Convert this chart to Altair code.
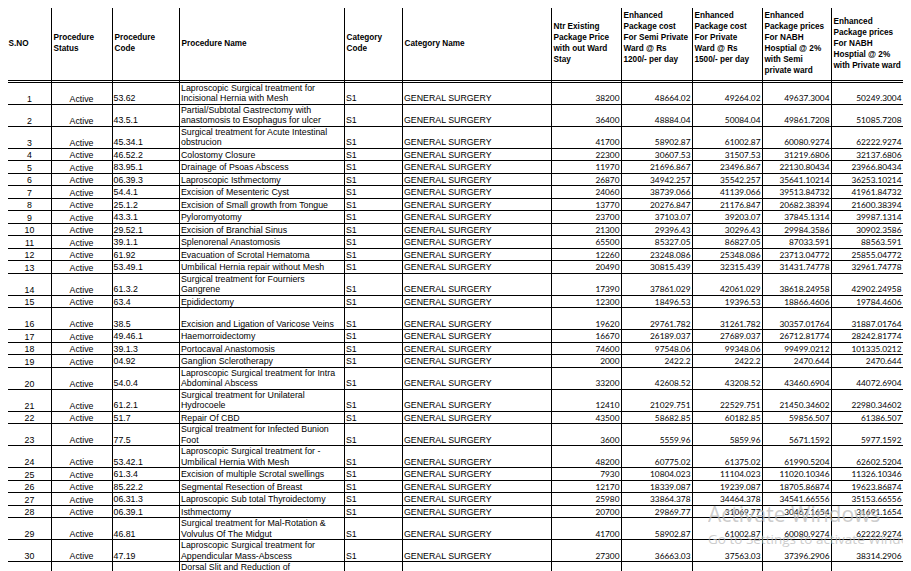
import altair as alt
import pandas as pd

# ---------------- data ----------------
sno = [str(n) for n in range(1, 31)] + [""]
status = ["Active"] * 30 + [""]
proc_code = ["53.62", "43.5.1", "45.34.1", "46.52.2", "83.95.1", "06.39.3", "54.4.1", "25.1.2",
             "43.3.1", "29.52.1", "39.1.1", "61.92", "53.49.1", "61.3.2", "63.4", "38.5",
             "49.46.1", "39.1.3", "04.92", "54.0.4", "61.2.1", "51.7", "77.5", "53.42.1",
             "61.3.4", "85.22.2", "06.31.3", "06.39.1", "46.81", "47.19", ""]
proc_name = [
    ["Laproscopic Surgical treatment for", "Incisional Hernia with Mesh"],
    ["Partial/Subtotal Gastrectomy with", "anastomosis to Esophagus for ulcer"],
    ["Surgical treatment for Acute Intestinal", "obstrucion"],
    ["Colostomy Closure"],
    ["Drainage of Psoas Abscess"],
    ["Laproscopic Isthmectomy"],
    ["Excision of Mesenteric Cyst"],
    ["Excision of Small growth from Tongue"],
    ["Pyloromyotomy"],
    ["Excision of Branchial Sinus"],
    ["Splenorenal Anastomosis"],
    ["Evacuation of Scrotal Hematoma"],
    ["Umbilical Hernia repair without Mesh"],
    ["Surgical treatment for Fourniers", "Gangrene"],
    ["Epididectomy"],
    ["", "Excision and Ligation of Varicose Veins"],
    ["Haemorroidectomy"],
    ["Portocaval Anastomosis"],
    ["Ganglion Sclerotherapy"],
    ["Laproscopic Surgical treatment for Intra", "Abdominal Abscess"],
    ["Surgical treatment for Unilateral", "Hydrocoele"],
    ["Repair Of CBD"],
    ["Surgical treatment for Infected Bunion", "Foot"],
    ["Laproscopic Surgical treatment for  -", "Umbilical Hernia With Mesh"],
    ["Excision of multiple Scrotal swellings"],
    ["Segmental Resection of Breast"],
    ["Laproscopic Sub total Thyroidectomy"],
    ["Isthmectomy"],
    ["Surgical treatment for Mal-Rotation &", "Volvulus Of The Midgut"],
    ["Laproscopic Surgical treatment for", "Appendicular Mass-Abscess"],
    ["Dorsal Slit and Reduction of", ""],
]
cat_code = ["S1"] * 30 + [""]
cat_name = ["GENERAL SURGERY"] * 30 + [""]
existing = ["38200", "36400", "41700", "22300", "11970", "26870", "24060", "13770", "23700", "21300",
            "65500", "12260", "20490", "17390", "12300", "19620", "16670", "74600", "2000", "33200",
            "12410", "43500", "3600", "48200", "7930", "12170", "25980", "20700", "41700", "27300", ""]
semi_private = ["48664.02", "48884.04", "58902.87", "30607.53", "21696.867", "34942.257", "38739.066",
                "20276.847", "37103.07", "29396.43", "85327.05", "23248.086", "30815.439", "37861.029",
                "18496.53", "29761.782", "26189.037", "97548.06", "2422.2", "42608.52", "21029.751",
                "58682.85", "5559.96", "60775.02", "10804.023", "18339.087", "33864.378", "29869.77",
                "58902.87", "36663.03", ""]
private = ["49264.02", "50084.04", "61002.87", "31507.53", "23496.867", "35542.257", "41139.066",
           "21176.847", "39203.07", "30296.43", "86827.05", "25348.086", "32315.439", "42061.029",
           "19396.53", "31261.782", "27689.037", "99348.06", "2422.2", "43208.52", "22529.751",
           "60182.85", "5859.96", "61375.02", "11104.023", "19239.087", "34464.378", "31069.77",
           "61002.87", "37563.03", ""]
nabh_semi = ["49637.3004", "49861.7208", "60080.9274", "31219.6806", "22130.80434", "35641.10214",
             "39513.84732", "20682.38394", "37845.1314", "29984.3586", "87033.591", "23713.04772",
             "31431.74778", "38618.24958", "18866.4606", "30357.01764", "26712.81774", "99499.0212",
             "2470.644", "43460.6904", "21450.34602", "59856.507", "5671.1592", "61990.5204",
             "11020.10346", "18705.86874", "34541.66556", "30467.1654", "60080.9274", "37396.2906", ""]
nabh_private = ["50249.3004", "51085.7208", "62222.9274", "32137.6806", "23966.80434", "36253.10214",
                "41961.84732", "21600.38394", "39987.1314", "30902.3586", "88563.591", "25855.04772",
                "32961.74778", "42902.24958", "19784.4606", "31887.01764", "28242.81774", "101335.0212",
                "2470.644", "44072.6904", "22980.34602", "61386.507", "5977.1592", "62602.5204",
                "11326.10346", "19623.86874", "35153.66556", "31691.1654", "62222.9274", "38314.2906", ""]
headers = [
    ["S.NO"],
    ["Procedure", "Status"],
    ["Procedure", "Code"],
    ["Procedure Name"],
    ["Category", "Code"],
    ["Category Name"],
    ["Ntr Existing", "Package Price", "with out Ward", "Stay"],
    ["Enhanced", "Package cost", "For Semi Private", "Ward @ Rs", "1200/- per day", ""],
    ["Enhanced", "Package cost", "For Private", "Ward @ Rs", "1500/- per day", ""],
    ["Enhanced", "Package prices", "For NABH", "Hosptial @ 2%", "with Semi", "private ward"],
    ["Enhanced", "Package prices", "For NABH", "Hosptial @ 2%", "with Private ward"],
]
watermark = ["Activate Windows", "Go to Settings to activate Windows."]

# ---------------- layout ----------------
EDGES = [6, 51, 112, 179, 344, 402, 551, 621, 692, 762, 831, 903]
TABLE_TOP, HEADER_BOTTOM, BODY_TOP = 7, 80, 82.3
SINGLE, TALL, LINE_H = 12.5, 22.0, 10.5
HEAD_MID, HEAD_LH = 43.5, 11.0


def crisp(v):
    return int(v) + 0.5


hlines = [crisp(TABLE_TOP), crisp(HEADER_BOTTOM), crisp(BODY_TOP)]
left_txt, center_txt, right_txt = [], [], []
top = BODY_TOP
for i in range(len(sno)):
    lines = proc_name[i]
    bottom = top + (TALL if len(lines) > 1 else SINGLE)
    hlines.append(crisp(bottom))
    base = bottom - 3.3
    center_txt.append({"x": (EDGES[0] + EDGES[1]) / 2 + 1, "y": base + 0.6, "t": sno[i]})
    center_txt.append({"x": (EDGES[1] + EDGES[2]) / 2, "y": base + 0.6, "t": status[i]})
    left_txt.append({"x": EDGES[2] + 1.5, "y": base, "t": proc_code[i]})
    for j, ln in enumerate(lines):
        left_txt.append({"x": EDGES[3] + 2, "y": base - LINE_H * (len(lines) - 1 - j), "t": ln})
    left_txt.append({"x": EDGES[4] + 2, "y": base, "t": cat_code[i]})
    left_txt.append({"x": EDGES[5] + 2, "y": base, "t": cat_name[i]})
    for k, col in enumerate([existing, semi_private, private, nabh_semi, nabh_private]):
        right_txt.append({"x": EDGES[7 + k] - 1.5, "y": base, "t": col[i]})
    top = bottom

head_txt = []
for c, hl in enumerate(headers):
    n = len(hl)
    for j, ln in enumerate(hl):
        head_txt.append({"x": EDGES[c] + 2.5, "y": HEAD_MID + (j - (n - 1) / 2) * HEAD_LH, "t": ln})

xs = alt.Scale(domain=[8, 903], nice=False, zero=False)
ys = alt.Scale(domain=[8, 571], reverse=True, nice=False, zero=False)

hdf = pd.DataFrame({"y": hlines, "x1": EDGES[0], "x2": EDGES[-1]})
vdf = pd.DataFrame({"x": [crisp(e) for e in EDGES], "y1": TABLE_TOP, "y2": 600})

h_rules = alt.Chart(hdf).mark_rule(color="black", strokeWidth=1).encode(
    x=alt.X("x1:Q", scale=xs, axis=None), x2="x2:Q", y=alt.Y("y:Q", scale=ys, axis=None))
v_rules = alt.Chart(vdf).mark_rule(color="black", strokeWidth=1).encode(
    x=alt.X("x:Q", scale=xs, axis=None), y=alt.Y("y1:Q", scale=ys, axis=None), y2="y2:Q")


def text_layer(rows, **kw):
    return alt.Chart(pd.DataFrame(rows)).mark_text(color="black", **kw).encode(
        x=alt.X("x:Q", scale=xs, axis=None), y=alt.Y("y:Q", scale=ys, axis=None), text="t:N")


body_left = text_layer(left_txt, align="left", baseline="alphabetic", font="Liberation Sans", fontSize=8.8)
body_center = text_layer(center_txt, align="center", baseline="alphabetic", font="Liberation Sans", fontSize=8.8)
body_right = text_layer(right_txt, align="right", baseline="alphabetic", font="Lato", fontSize=8.3)
head = text_layer(head_txt, align="left", baseline="middle", font="Liberation Sans", fontSize=8.2,
                  fontWeight="bold")

wm_df = pd.DataFrame({"x": [708, 708], "y": [522, 544], "t": watermark, "s": [21, 13.5]})
wm = alt.Chart(wm_df).mark_text(align="left", baseline="alphabetic", font="Open Sans",
                                color="#b8b8b8", opacity=0.7).encode(
    x=alt.X("x:Q", scale=xs, axis=None), y=alt.Y("y:Q", scale=ys, axis=None), text="t:N",
    size=alt.Size("s:Q", scale=None, legend=None))

chart = alt.layer(h_rules, v_rules, head, body_left, body_center, body_right, wm).properties(
    width=895, height=563, padding=0,
    autosize=alt.AutoSizeParams(type="none"),
).configure_view(stroke=None)

chart.save("out.html", embed_options={"renderer": "svg", "actions": False})
